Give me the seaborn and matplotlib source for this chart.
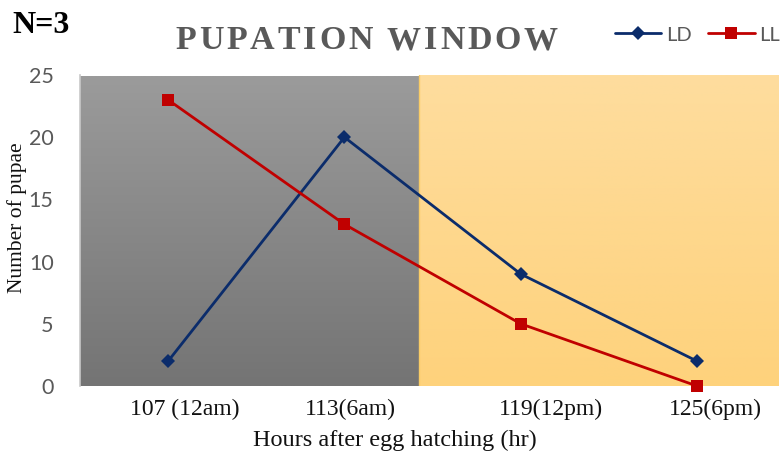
import numpy as np
import pandas as pd
import matplotlib
matplotlib.use("Agg")
import matplotlib.pyplot as plt
import matplotlib.transforms as mtransforms
from matplotlib.colors import LinearSegmentedColormap
from matplotlib.lines import Line2D
import seaborn as sns

# ---- data ----
hour_labels = ["107 (12am)", "113(6am)", "119(12pm)", "125(6pm)"]
ld_pupae = [2, 20, 9, 2]
ll_pupae = [23, 13, 5, 0]
y_ticks = [0, 5, 10, 15, 20, 25]

df = pd.DataFrame({
    "hours": hour_labels * 2,
    "pupae": ld_pupae + ll_pupae,
    "condition": ["LD"] * len(hour_labels) + ["LL"] * len(hour_labels),
})

# ---- styling ----
W, H = 782, 462
sns.set_style("white")
SERIF = "Liberation Serif"
SANS = "Lato"
palette = {"LD": "#0B2C6B", "LL": "#C00000"}
markers = {"LD": "D", "LL": "s"}


def fig_xy(x_px, y_px_top):
    return x_px / W, 1 - y_px_top / H


fig = plt.figure(figsize=(W / 100, H / 100), dpi=100)
ax = fig.add_axes([80 / W, 76 / H, 699 / W, 311 / H])

x_lo, x_hi = -0.5, 3.465
split = 1.424  # dark (night) / light (day) boundary on the category axis

# gradient backgrounds: dark phase and light phase
grad = np.linspace(0, 1, 256).reshape(-1, 1)
gray_cmap = LinearSegmentedColormap.from_list("dark", ["#747474", "#9b9b9b"])
sun_cmap = LinearSegmentedColormap.from_list("light", ["#FED27C", "#FEDD9E"])
ax.imshow(grad, cmap=gray_cmap, origin="lower", aspect="auto",
          extent=[x_lo, split, 0, 24.85], zorder=0)
ax.imshow(grad, cmap=sun_cmap, origin="lower", aspect="auto",
          extent=[split, x_hi, 0, 25], zorder=0)
ax.axvline(split, ymin=0, ymax=1, color="#F9CC66", lw=1.0, zorder=0.5)

sns.lineplot(data=df, x="hours", y="pupae", hue="condition", style="condition",
             palette=palette, markers=markers, dashes=False, sort=False,
             linewidth=2.0, markersize=7.5, markeredgewidth=0,
             legend=False, ax=ax, zorder=3, clip_on=False)
for line in ax.lines:
    if line.get_marker() == "s":
        line.set_markersize(9)

ax.set_xlim(x_lo, x_hi)
ax.set_ylim(0, 25)
ax.set_yticks(y_ticks)
ax.set_yticklabels([str(v) for v in y_ticks], fontfamily=SANS, fontsize=15.5, color="#595959")
ax.set_xticks(range(len(hour_labels)))
ax.set_xticklabels(hour_labels, fontfamily=SERIF, fontsize=17, color="#111111")
ax.tick_params(axis="both", length=0)
ax.tick_params(axis="y", pad=19)
ax.tick_params(axis="x", pad=9)

# shift the category labels sideways a little
label_shift_px = [17, 6, 30, 18]
for lab, dx in zip(ax.get_xticklabels(), label_shift_px):
    lab.set_transform(lab.get_transform() +
                      mtransforms.ScaledTranslation(dx / 100, 0, fig.dpi_scale_trans))

ax.set_xlabel("")
ax.set_ylabel("")
for side in ["top", "right", "bottom"]:
    ax.spines[side].set_visible(False)
ax.spines["left"].set_color("#c8c8c8")
ax.spines["left"].set_linewidth(1.2)
ax.grid(False)

# axis titles
fig.text(*fig_xy(394.5, 440), "Hours after egg hatching (hr)", fontfamily=SERIF,
         fontsize=17.5, color="#111111", ha="center", va="center")
fig.text(*fig_xy(17, 217.5), "Number of pupae", fontfamily=SERIF, fontsize=15.5,
         color="#111111", rotation=90, ha="center", va="center")

# sample size note
fig.text(*fig_xy(12, 33), "N=3", fontfamily=SERIF, fontweight="bold", fontsize=23,
         color="black", ha="left", va="baseline")

# letter-spaced title
title_text = "PUPATION WINDOW"
title_size = 24.5
renderer = fig.canvas.get_renderer()
glyphs = [fig.text(0, 0, ch, fontfamily=SERIF, fontweight="bold", fontsize=title_size,
                   color="#595959", ha="left", va="baseline") for ch in title_text]
widths = []
for t, ch in zip(glyphs, title_text):
    if ch.strip():
        widths.append(t.get_window_extent(renderer).width)
    else:
        widths.append(0.25 * title_size * 100 / 72)
x0, x1 = 175, 558
gap = (x1 - x0 - sum(widths)) / (len(title_text) - 1)
xc = x0
for t, w in zip(glyphs, widths):
    t.set_position(fig_xy(xc, 49))
    xc += w + gap

# legend
handles = [Line2D([], [], color=palette[k], marker=markers[k], lw=2.0,
                  markersize=7.5 if k == "LD" else 9, markeredgewidth=0)
           for k in ["LD", "LL"]]
leg = fig.legend(handles, ["LD", "LL"], loc="center left",
                 bbox_to_anchor=fig_xy(615, 35), frameon=False, ncol=2,
                 borderpad=0, borderaxespad=0, handlelength=2.3,
                 handletextpad=0.25, columnspacing=0.8,
                 prop={"family": SANS, "size": 14.5})
for txt in leg.get_texts():
    txt.set_color("#595959")

fig.savefig("out.png", dpi=100)
